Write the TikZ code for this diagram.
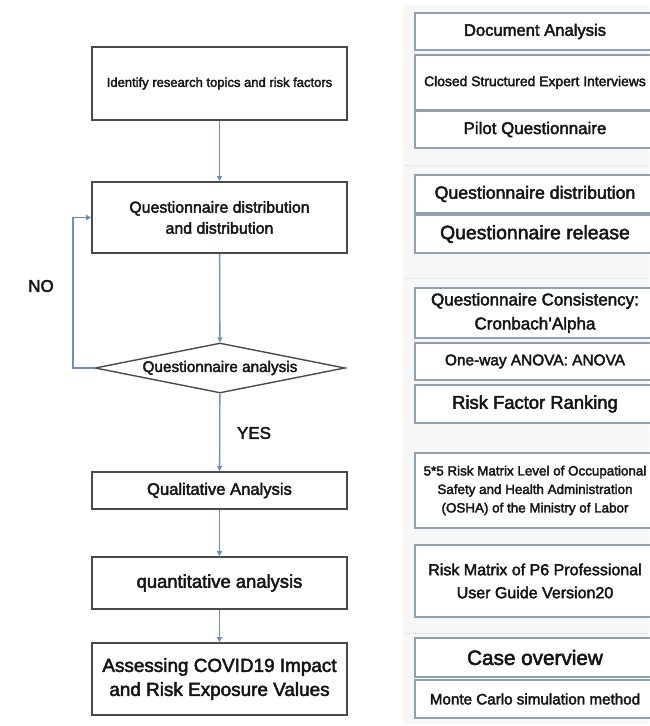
\documentclass[tikz,border=0pt]{standalone}
\usepackage{fontspec}
\setmainfont{Liberation Sans}[UprightFeatures={FakeBold=2.5}]
\usetikzlibrary{arrows.meta,shapes.geometric}
\definecolor{lbord}{HTML}{4A4A4A}
\definecolor{arrowc}{HTML}{6B8EC4}
\definecolor{rbord}{HTML}{8FA0B0}
\definecolor{txt}{HTML}{151515}
\newcommand{\fsz}[2]{\fontsize{#1pt}{#2pt}\selectfont}
\begin{document}
\begin{tikzpicture}[x=1pt,y=-1pt,
  lbox/.style={draw=lbord,line width=1.6pt,fill=white,minimum width=255pt,inner sep=0pt,align=center,text=txt},
  rbox/.style={draw=rbord,line width=1.8pt,fill=white,minimum width=240pt,inner sep=0pt,align=center,text=txt},
  dec/.style={draw=lbord,line width=1.4pt,fill=white,shape=diamond,shape aspect=5,minimum width=250pt,minimum height=50pt,inner sep=0pt,text=txt},
  flow/.style={draw=arrowc,line width=1.3pt,-{Triangle[length=5pt,width=5pt]}},
  sepline/.style={draw=black!15,line width=1pt,dash pattern=on 1pt off 1pt},
  lab/.style={text=txt,inner sep=0pt}]
\useasboundingbox (0,0) rectangle (649,726);
\fill[black!3] (403,5) rectangle (649,724);
% left flow
\node[lbox,minimum height=73pt,font=\fsz{13}{16}] (b1) at (219.5,83.5) {Identify research topics and risk factors};
\node[lbox,minimum height=71pt,font=\fsz{15.9}{21}] (b2) at (219.5,217.5) {Questionnaire distribution\\and distribution};
\node[dec,font=\fsz{15.3}{18}] (d) at (220,368) {Questionnaire analysis};
\node[lbox,minimum height=37pt,font=\fsz{16.6}{20}] (b3) at (219.5,490.5) {Qualitative Analysis};
\node[lbox,minimum height=52pt,font=\fsz{18.4}{22}] (b4) at (219.5,583) {quantitative analysis};
\node[lbox,minimum height=72pt,font=\fsz{18.9}{24}] (b5) at (219.5,679) {Assessing COVID19 Impact\\and Risk Exposure Values};
\coordinate (lb) at (73,368);
\coordinate (lt) at (73,217.5);
\draw[flow] (b1) -- (b2);
\draw[flow] (b2) -- (d);
\draw[flow] (d) -- (b3);
\draw[flow] (b3) -- (b4);
\draw[flow] (b4) -- (b5);
\draw[flow] (d.west) -- (lb) -- (lt) -- (b2.west);
\node[lab,font=\fsz{17}{20}] (no) at (41,286) {NO};
\node[lab,font=\fsz{17}{20}] (yes) at (254,433) {YES};
% right column
\node[rbox,minimum height=37pt,font=\fsz{16.6}{20}] (r1) at (535,31.5) {Document Analysis};
\node[rbox,minimum height=55pt,font=\fsz{13.9}{17}] (r2) at (535,82.5) {Closed Structured Expert Interviews};
\node[rbox,minimum height=37pt,font=\fsz{16.9}{20}] (r3) at (535,129.5) {Pilot Questionnaire};
\draw[sepline] (405,165) -- (649,165);
\node[rbox,minimum height=38pt,font=\fsz{17.7}{21}] (r4) at (535,194) {Questionnaire distribution};
\node[rbox,minimum height=38pt,font=\fsz{19.4}{23}] (r5) at (535,234) {Questionnaire release};
\draw[sepline] (405,278) -- (649,278);
\node[rbox,minimum height=50pt,font=\fsz{17}{24}] (r6) at (535,313) {Questionnaire Consistency:\\Cronbach'Alpha};
\node[rbox,minimum height=37pt,font=\fsz{15.4}{19}] (r7) at (535,361.5) {One-way ANOVA: ANOVA};
\node[rbox,minimum height=38pt,font=\fsz{18.4}{22}] (r8) at (535,404) {Risk Factor Ranking};
\node[rbox,minimum height=75pt,font=\fsz{13.4}{18.5}] (r9) at (535,490.5) {5*5 Risk Matrix Level of Occupational\\Safety and Health Administration\\(OSHA) of the Ministry of Labor};
\node[rbox,minimum height=72pt,font=\fsz{16}{23}] (r10) at (535,581) {Risk Matrix of P6 Professional\\User Guide Version20};
\draw[sepline] (405,633) -- (649,633);
\node[rbox,minimum height=39pt,font=\fsz{20.7}{24}] (r11) at (535,657.5) {Case overview};
\node[rbox,minimum height=38pt,font=\fsz{15.2}{19}] (r12) at (535,699) {Monte Carlo simulation method};
\end{tikzpicture}
\end{document}
